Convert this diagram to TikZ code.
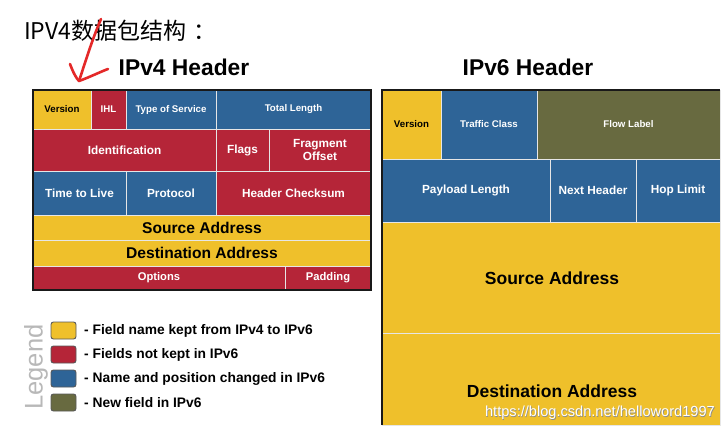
\documentclass[tikz,border=0pt]{standalone}
\usepackage{fontspec}
\setmainfont{Liberation Sans}
\newfontfamily\cjk{Noto Sans CJK SC}
\definecolor{cYel}{HTML}{EFC02B}
\definecolor{cRed}{HTML}{B52538}
\definecolor{cBlu}{HTML}{2E6497}
\definecolor{cOli}{HTML}{686A40}
\definecolor{cSep}{HTML}{E6E6E6}
\definecolor{cPen}{HTML}{E42828}
\newcommand\fs[1]{\fontsize{#1}{#1}\selectfont}
\newcommand\cellat[7]{\node[#6, minimum width={#4-#2}, minimum height={#5-#3}] (#1) at ({(#2+#4)/2},{(#3+#5)/2}) {#7};}
\tikzset{
  cell/.style={draw=cSep, line width=0.8pt, inner sep=0pt, outer sep=0pt, align=center},
  yc/.style={cell, fill=cYel, text=black},
  rc/.style={cell, fill=cRed, text=white},
  bc/.style={cell, fill=cBlu, text=white},
  oc/.style={cell, fill=cOli, text=white},
  sA/.style={font=\bfseries\fs{9.7}},
  sB/.style={font=\bfseries\fs{11.8}},
  sC/.style={font=\bfseries\fs{15.6}},
  sD/.style={font=\bfseries\fs{17.5}},
  title/.style={font=\bfseries\fs{22.8}, inner sep=0pt},
  legbox/.style={draw=black!65, line width=0.9pt, rounded corners=2.5pt, minimum width=25pt, minimum height=17pt, inner sep=0pt},
  legtext/.style={anchor=west, font=\bfseries\fs{13.8}, inner sep=0pt},
  frame/.style={draw=black!90, line width=1.6pt},
}
\begin{document}
\begin{tikzpicture}[x=1pt, y=-1pt]
\useasboundingbox (0,0) rectangle (725,433);
\fill[white] (0,0) rectangle (725,433);

% heading
\node[anchor=west, inner sep=0pt, font=\cjk\fs{23}] (head) at (24,31) {IPV4数据包结构\kern7pt：};

% titles
\node[title] (t4) at (184,67) {IPv4 Header};
\node[title] (t6) at (528,67) {IPv6 Header};

% IPv4 header
\cellat{v4ver}{33}{90}{91}{129}{yc,sA}{Version}
\cellat{v4ihl}{91}{90}{126}{129}{rc,sA}{IHL}
\cellat{v4tos}{126}{90}{216}{129}{bc,sA}{Type of Service}
\cellat{v4tl}{216}{90}{371}{129}{bc,sA}{Total Length}
\cellat{v4id}{33}{129}{216}{171}{rc,sB}{Identification}
\cellat{v4fl}{216}{129}{269}{171}{rc,sB}{Flags}
\cellat{v4fo}{269}{129}{371}{171}{rc,sB,font=\bfseries\fontsize{11.8}{13}\selectfont}{Fragment\\Offset}
\cellat{v4ttl}{33}{171}{126}{215}{bc,sB}{Time to Live}
\cellat{v4pr}{126}{171}{216}{215}{bc,sB}{Protocol}
\cellat{v4hc}{216}{171}{371}{215}{rc,sB}{Header Checksum}
\cellat{v4sa}{33}{215}{371}{240}{yc,sC}{Source Address}
\cellat{v4da}{33}{240}{371}{266}{yc,sC}{Destination Address}
\cellat{v4op}{33}{266}{285}{290}{rc,font=\bfseries\fs{11.2}}{Options}
\cellat{v4pd}{285}{266}{371}{290}{rc,font=\bfseries\fs{11.2}}{Padding}
\draw[frame] (33,90) rectangle (371,290);

% IPv6 header
\cellat{v6ver}{382}{90}{441}{159}{yc,sA}{Version}
\cellat{v6tc}{441}{90}{537}{159}{bc,sA}{Traffic Class}
\cellat{v6fl}{537}{90}{720}{159}{oc,sA}{Flow Label}
\cellat{v6pl}{382}{159}{550}{222}{bc,sB}{Payload Length}
\cellat{v6nh}{550}{159}{636}{222}{bc,sB}{Next Header}
\cellat{v6hl}{636}{159}{720}{222}{bc,sB}{Hop Limit}
\cellat{v6sa}{382}{222}{720}{333}{yc}{}
\cellat{v6da}{382}{333}{720}{425}{yc}{}
\node[sD, inner sep=0pt] (v6sat) at (552,278) {Source Address};
\node[sD, inner sep=0pt] (v6dat) at (552,391) {Destination Address};
\draw[frame] (382,425) -- (382,90) -- (720,90);

% legend
\node[rotate=90, text=black!28, font=\fs{25.5}, inner sep=0pt] (leg) at (36,367) {Legend};
\node[legbox, fill=cYel] (l1) at (63.5,330.5) {};
\node[legbox, fill=cRed] (l2) at (63.5,354.5) {};
\node[legbox, fill=cBlu] (l3) at (63.5,378.5) {};
\node[legbox, fill=cOli] (l4) at (63.5,402.5) {};
\node[legtext] (lt1) at (84,331) {- Field name kept from IPv4 to IPv6};
\node[legtext] (lt2) at (84,355) {- Fields not kept in IPv6};
\node[legtext] (lt3) at (84,379) {- Name and position changed in IPv6};
\node[legtext] (lt4) at (84,403) {- New field in IPv6};

% watermark
\node[anchor=east, inner sep=0pt, font=\fs{14.6}, text=black!45] (wms) at (715.6,413.6) {https://blog.csdn.net/helloword1997};
\node[anchor=east, inner sep=0pt, font=\fs{14.6}, text=white] (wm) at (715,413) {https://blog.csdn.net/helloword1997};

% red hand-drawn arrow
\draw[cPen, line width=2.6pt, line cap=round, line join=round] (101,19) .. controls (92,40) and (86,60) .. (79,81);
\draw[cPen, line width=2.6pt, line cap=round, line join=round] (70,64) .. controls (73,72) and (76,78) .. (79,81) .. controls (90,77) and (100,72) .. (108,69);
\end{tikzpicture}
\end{document}
